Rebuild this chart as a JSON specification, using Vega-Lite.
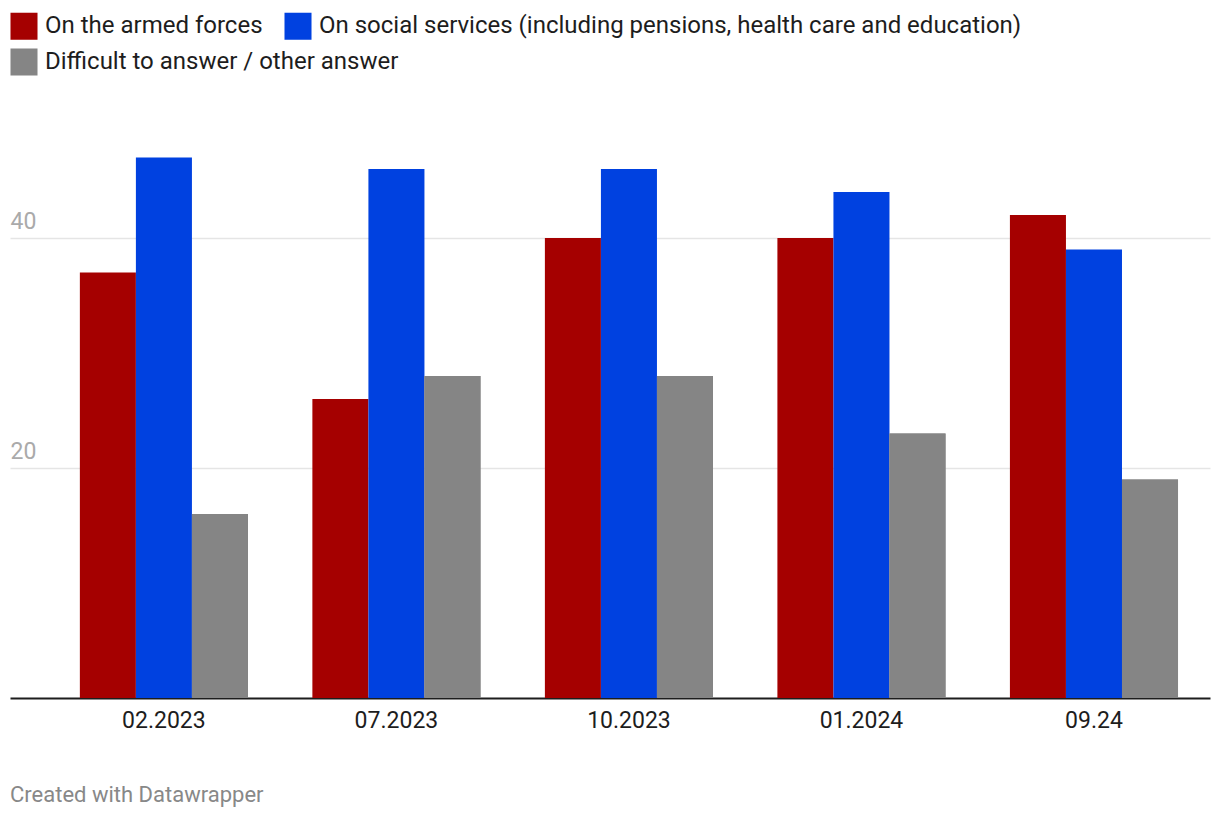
{
  "$schema": "https://vega.github.io/schema/vega-lite/v6.json",
  "width": 1200,
  "height": 575,
  "autosize": {"type": "none"},
  "padding": {"left": 10, "right": 10, "top": 123, "bottom": 122},
  "background": "white",
  "config": {
    "font": "Roboto",
    "view": {"stroke": null},
    "legend": {
      "title": null,
      "orient": "none",
      "direction": "horizontal",
      "symbolType": "square",
      "symbolSize": 730,
      "symbolStrokeWidth": 0,
      "symbolOpacity": 1,
      "labelFontSize": 24,
      "labelColor": "#1d1d1d",
      "labelLimit": 1000,
      "columnPadding": 21,
      "labelOffset": 7,
      "padding": 0
    }
  },
  "title": {
    "text": "Created with Datawrapper",
    "orient": "bottom",
    "anchor": "start",
    "fontSize": 22,
    "fontWeight": "normal",
    "color": "#888888",
    "offset": 53,
    "frame": "group"
  },
  "data": {
    "values": [
      {"date": "02.2023", "category": "On the armed forces", "value": 37},
      {"date": "02.2023", "category": "On social services (including pensions, health care and education)", "value": 47},
      {"date": "02.2023", "category": "Difficult to answer / other answer", "value": 16},
      {"date": "07.2023", "category": "On the armed forces", "value": 26},
      {"date": "07.2023", "category": "On social services (including pensions, health care and education)", "value": 46},
      {"date": "07.2023", "category": "Difficult to answer / other answer", "value": 28},
      {"date": "10.2023", "category": "On the armed forces", "value": 40},
      {"date": "10.2023", "category": "On social services (including pensions, health care and education)", "value": 46},
      {"date": "10.2023", "category": "Difficult to answer / other answer", "value": 28},
      {"date": "01.2024", "category": "On the armed forces", "value": 40},
      {"date": "01.2024", "category": "On social services (including pensions, health care and education)", "value": 44},
      {"date": "01.2024", "category": "Difficult to answer / other answer", "value": 23},
      {"date": "09.24", "category": "On the armed forces", "value": 42},
      {"date": "09.24", "category": "On social services (including pensions, health care and education)", "value": 39},
      {"date": "09.24", "category": "Difficult to answer / other answer", "value": 19}
    ]
  },
  "encoding": {
    "x": {
      "field": "date",
      "type": "nominal",
      "sort": ["02.2023", "07.2023", "10.2023", "01.2024", "09.24"],
      "scale": {"paddingInner": 0.277, "paddingOuter": 0.219, "align": 0.686},
      "axis": {
        "title": null,
        "labelAngle": 0,
        "labelFontSize": 23,
        "labelColor": "#1d1d1d",
        "labelPadding": 11,
        "ticks": false,
        "domain": true,
        "domainColor": "#1d1d1d",
        "domainWidth": 2,
        "grid": false
      }
    },
    "xOffset": {
      "field": "category",
      "type": "nominal",
      "scale": {
        "domain": ["On the armed forces", "On social services (including pensions, health care and education)", "Difficult to answer / other answer"],
        "paddingInner": 0,
        "paddingOuter": 0
      }
    },
    "y": {
      "field": "value",
      "type": "quantitative",
      "scale": {"domain": [0, 50], "nice": false},
      "axis": {
        "title": null,
        "values": [20, 40],
        "domain": false,
        "ticks": false,
        "grid": true,
        "gridColor": "#e5e5e5",
        "gridWidth": 1.5,
        "labelAlign": "left",
        "labelBaseline": "alphabetic",
        "labelPadding": 0,
        "labelOffset": -10,
        "labelFontSize": 23,
        "labelColor": "#aaaaaa"
      }
    }
  },
  "layer": [
    {
      "mark": {"type": "bar"},
      "encoding": {
        "color": {
          "field": "category",
          "type": "nominal",
          "scale": {
            "domain": ["On the armed forces", "On social services (including pensions, health care and education)", "Difficult to answer / other answer"],
            "range": ["#a50000", "#0041e0", "#858585"]
          },
          "legend": {
            "values": ["On the armed forces", "On social services (including pensions, health care and education)"],
            "legendX": 0,
            "legendY": -111
          }
        }
      }
    },
    {
      "transform": [{"filter": "datum.category === 'Difficult to answer / other answer'"}],
      "mark": {"type": "bar"},
      "encoding": {
        "fill": {
          "field": "category",
          "type": "nominal",
          "scale": {
            "domain": ["Difficult to answer / other answer"],
            "range": ["#858585"]
          },
          "legend": {
            "legendX": 0,
            "legendY": -75
          }
        }
      }
    }
  ]
}
